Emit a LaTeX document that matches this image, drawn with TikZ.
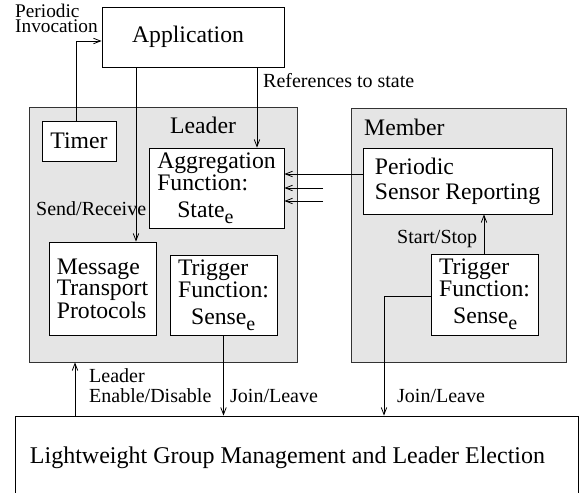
\documentclass[tikz,border=0pt]{standalone}
\usepackage{fontspec}
\setmainfont{Liberation Serif}
\usetikzlibrary{arrows.meta}
\newcommand\subE{\raisebox{-6pt}{\fontsize{20}{20}\selectfont e}}
\begin{document}
\begin{tikzpicture}[x=1pt,y=-1pt,
  box/.style={draw=black, line width=0.9pt, fill=white, inner sep=0pt, align=left, font=\fontsize{23.7}{20}\selectfont},
  grp/.style={draw=black!80, line width=0.9pt, fill=gray!20, inner sep=0pt},
  lbl/.style={font=\fontsize{20}{20}\selectfont, inner sep=0pt, anchor=base west, align=left},
  ttl/.style={font=\fontsize{23.7}{20}\selectfont, inner sep=0pt, anchor=base west},
  arr/.style={line width=0.8pt, -{Straight Barb[length=7pt,width=5.5pt]}},
  ln/.style={line width=0.8pt}]
\useasboundingbox (0,0) rectangle (579,493);

% group boxes
\node[grp, minimum width=268pt, minimum height=255pt] (leader) at (163,234.5) {};
\node[grp, minimum width=215pt, minimum height=254pt] (member) at (458.5,235) {};

% boxes
\node[box, minimum width=182pt, minimum height=60pt] (app) at (193,37) {Application\hspace*{10pt}};
\node[box, minimum width=74pt, minimum height=40pt] (timer) at (79,141) {Timer};
\node[box, minimum width=135pt, minimum height=80pt] (agg) at (216.5,188) {Aggregation\\Function:\\[7pt]\hspace*{20pt}State\subE};
\node[box, minimum width=107pt, minimum height=93pt] (msg) at (102.5,288.5) {Message\\Transport\\Protocols};
\node[box, minimum width=107pt, minimum height=80pt] (trigL) at (223.5,295) {Trigger\\Function:\\[7pt]\hspace*{13pt}Sense\subE};
\node[box, minimum width=189pt, minimum height=66pt] (psr) at (457.5,181) {Periodic\\[5pt]Sensor Reporting};
\node[box, minimum width=107pt, minimum height=81pt] (trigM) at (484.5,294.5) {Trigger\\Function:\\[7pt]\hspace*{14pt}Sense\subE};
\node[box, minimum width=563pt, minimum height=83pt, font=\fontsize{24}{20}\selectfont] (lgm) at (296.5,457.5) {Lightweight Group Management and Leader Election\hspace*{18pt}};

% titles and labels
\node[ttl] (tleader) at (170,133) {Leader};
\node[ttl] (tmember) at (364,135) {Member};
\node[lbl, font=\fontsize{19.3}{14.5}\selectfont] (lperiodic) at (15,32) {Periodic\\Invocation};
\node[lbl] (lref) at (263,87) {References to state};
\node[lbl] (lsend) at (36,215) {Send/Receive};
\node[lbl] (lstart) at (397,243) {Start/Stop};
\node[lbl] (lenable) at (89,402) {Leader\\Enable/Disable};
\node[lbl] (ljoinL) at (230,402) {Join/Leave};
\node[lbl] (ljoinM) at (397,402) {Join/Leave};

% helper coordinates
\coordinate (xt) at (76,0);
\coordinate (yt) at (0,41);
\coordinate (xm) at (136,0);
\coordinate (xr) at (257,0);
\coordinate (y1) at (0,174);
\coordinate (f1) at (323,188);
\coordinate (f2) at (323,201);
\coordinate (xs) at (484,0);
\coordinate (xe) at (75,0);
\coordinate (xj) at (384,0);
\coordinate (yj) at (0,296);

% connectors
\draw[arr] (timer.north -| xt) |- (app.west |- yt);
\draw[arr] (app.south -| xm) -- (msg.north -| xm);
\draw[arr] (app.south -| xr) -- (agg.north -| xr);
\draw[arr] (psr.west |- y1) -- (agg.east |- y1);
\draw[arr] (f1) -- (agg.east |- f1);
\draw[arr] (f2) -- (agg.east |- f2);
\draw[arr] (trigM.north -| xs) -- (psr.south -| xs);
\draw[arr] (trigL.south) -- (trigL.south |- lgm.north);
\draw[arr] (trigM.west |- yj) -| (lgm.north -| xj);
\draw[arr] (lgm.north -| xe) -- (leader.south -| xe);
\end{tikzpicture}
\end{document}
